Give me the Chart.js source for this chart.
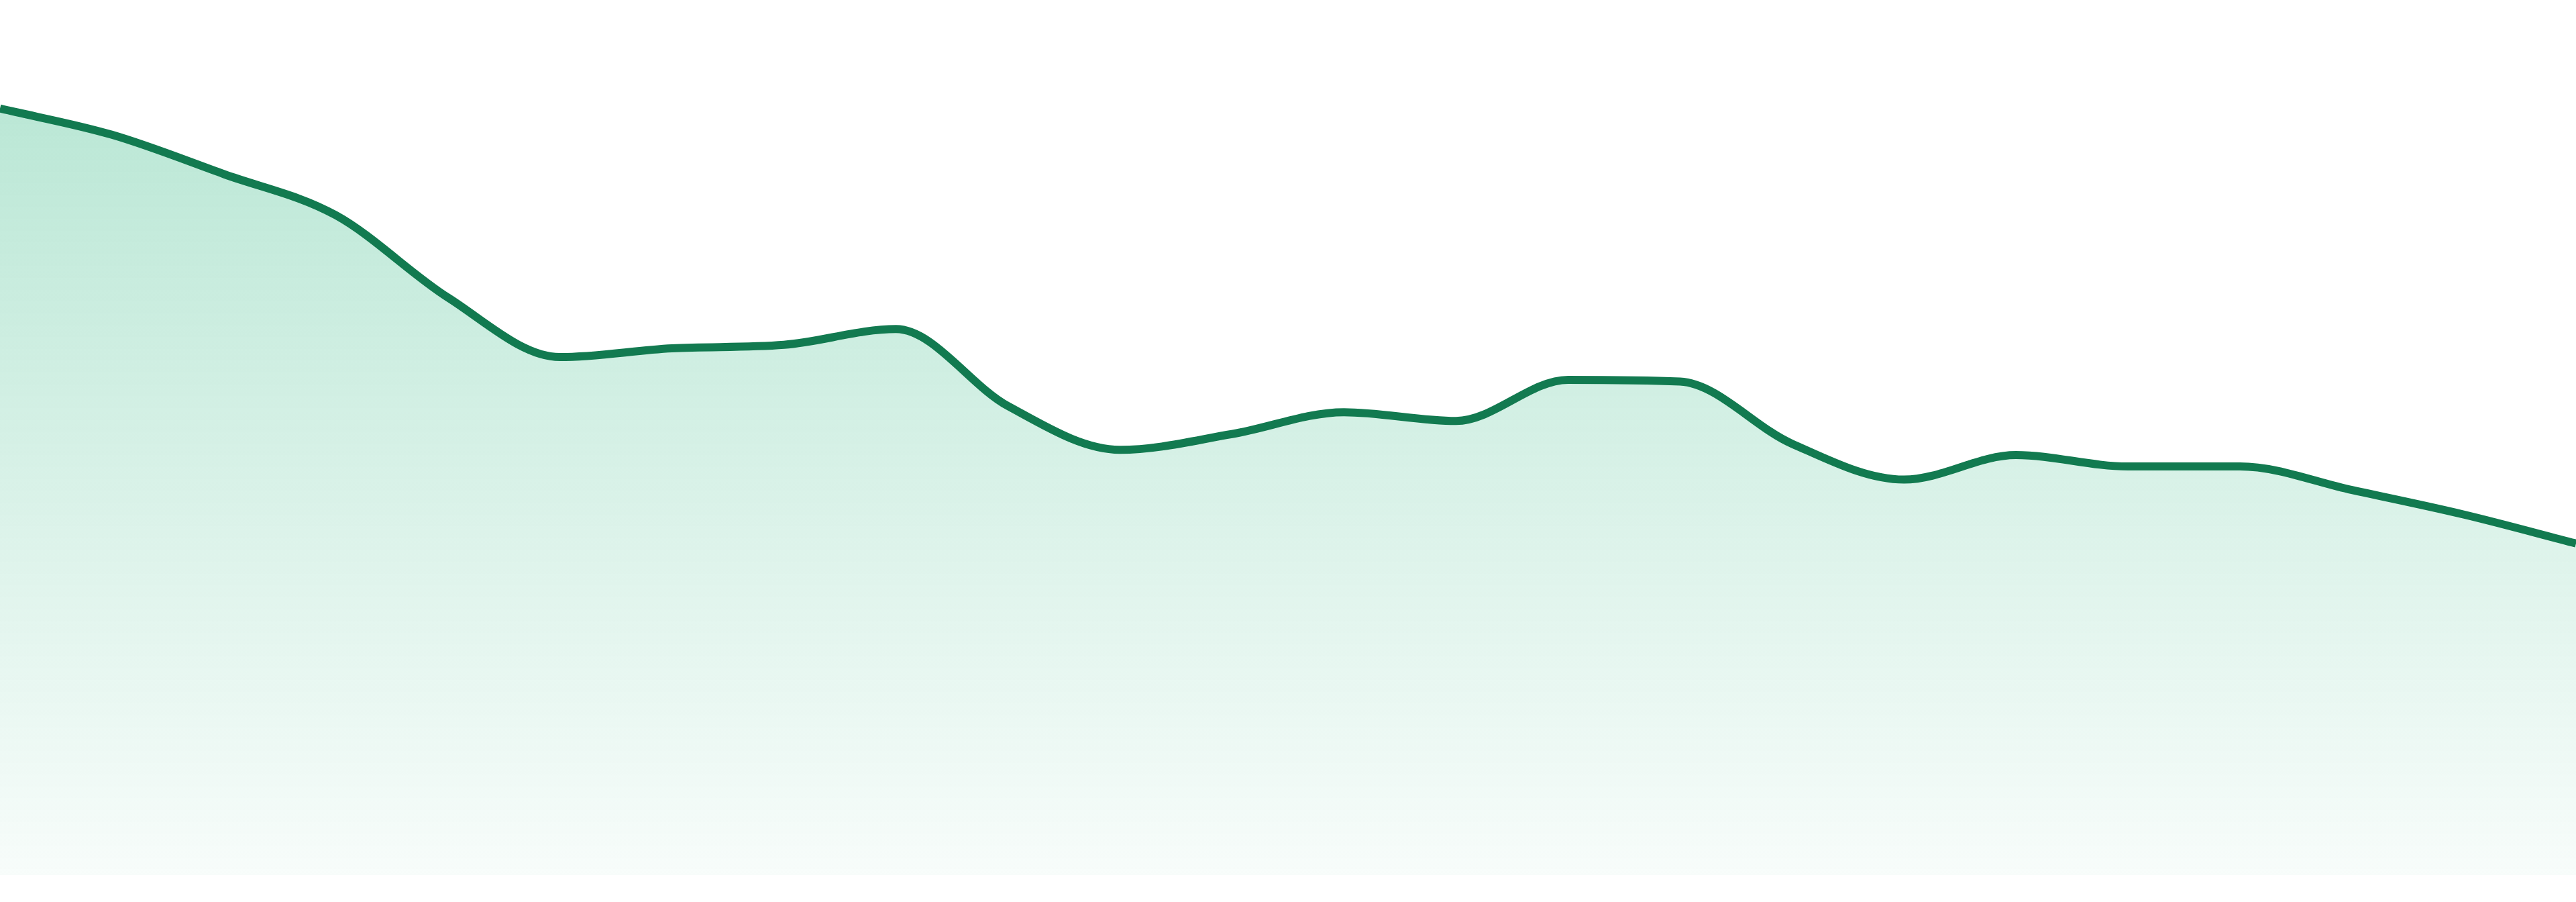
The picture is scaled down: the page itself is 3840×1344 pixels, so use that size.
<!DOCTYPE html>
<html>
<head>
<meta charset="utf-8">
<script src="https://cdn.jsdelivr.net/npm/chart.js@4/dist/chart.umd.min.js"></script>
<style>
  html, body { margin: 0; padding: 0; background: #ffffff; }
  #wrap { width: 3840px; height: 1344px; position: relative; }
</style>
</head>
<body>
<div id="wrap"><canvas id="c"></canvas></div>
<script>
const labels = ["1","2","3","4","5","6","7","8","9","10","11","12","13","14","15","16","17","18","19","20","21","22","23","24"];
const values = [87.6, 84.6, 80.1, 75.4, 66.0, 59.2, 60.2, 60.6, 62.4, 53.6, 48.6, 50.4, 52.9, 51.9, 56.6, 56.4, 49.3, 45.2, 48.0, 46.7, 46.7, 44.0, 41.2, 37.9];
const yMin = 0;
const yMax = 100;

const lineColor = "#127a50";

function fillGradient(ctx) {
  const chart = ctx.chart;
  const area = chart.chartArea;
  if (!area) return "rgba(16,172,110,0.2)";
  const g = chart.ctx.createLinearGradient(0, area.top, 0, area.bottom);
  g.addColorStop(0, "rgba(16,172,110,0.32)");
  g.addColorStop(1, "rgba(16,172,110,0.03)");
  return g;
}

new Chart(document.getElementById("c"), {
  type: "line",
  data: {
    labels: labels,
    datasets: [{
      data: values,
      borderColor: lineColor,
      borderWidth: 12,
      backgroundColor: fillGradient,
      fill: "origin",
      pointRadius: 0,
      pointHoverRadius: 0,
      cubicInterpolationMode: "monotone"
    }]
  },
  options: {
    responsive: true,
    maintainAspectRatio: false,
    animation: false,
    layout: { padding: { top: 0, bottom: 40, left: 0, right: 0 } },
    plugins: { legend: { display: false }, tooltip: { enabled: false } },
    scales: {
      x: { display: false, offset: false },
      y: { display: false, min: yMin, max: yMax }
    }
  }
});
</script>
</body>
</html>
